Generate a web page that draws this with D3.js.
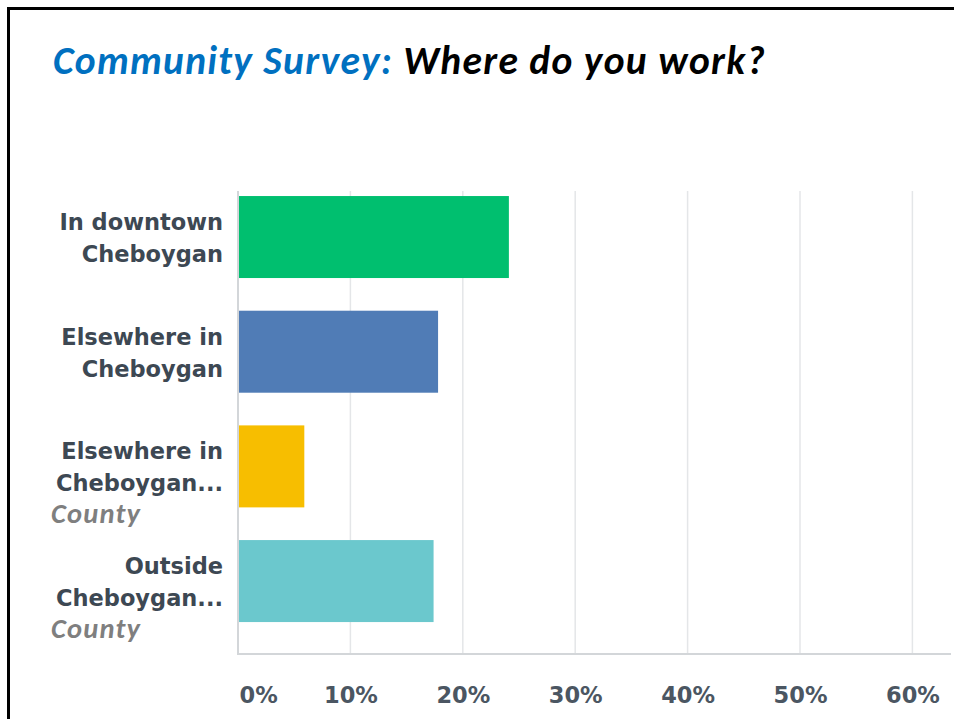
<!DOCTYPE html>
<html>
<head>
<meta charset="utf-8">
<script src="https://cdn.jsdelivr.net/npm/d3@7/dist/d3.min.js"></script>
<style>
  html, body { margin: 0; padding: 0; background: #fff; }
  svg { display: block; }
</style>
</head>
<body>
<svg id="chart" width="954" height="719"></svg>
<script>
// Survey answers, share of respondents
const categories = ["In downtown Cheboygan", "Elsewhere in Cheboygan", "Elsewhere in Cheboygan County", "Outside Cheboygan County"];
const labelLines = [
  ["In downtown", "Cheboygan"],
  ["Elsewhere in", "Cheboygan"],
  ["Elsewhere in", "Cheboygan..."],
  ["Outside", "Cheboygan..."]
];
const labelNotes = ["", "", "County", "County"];
const values = [0.241, 0.178, 0.059, 0.174];
const colors = ["#00bf6f", "#507cb6", "#f7be00", "#6bc8cd"];
const tickValues = [0, 0.1, 0.2, 0.3, 0.4, 0.5, 0.6];
const tickLabels = ["0%", "10%", "20%", "30%", "40%", "50%", "60%"];
const titleLead = "Community Survey: ";
const titleRest = "Where do you work?";

const svg = d3.select("#chart");
const W = 954, H = 719;

svg.append("rect").attr("width", W).attr("height", H).attr("fill", "#fff");

// slide frame (left and top edges)
svg.append("path")
  .attr("d", `M8.5,${H} V8.5 H${W}`)
  .attr("fill", "none").attr("stroke", "#000").attr("stroke-width", 3);

// title
const title = svg.append("text")
  .attr("x", 53).attr("y", 74)
  .attr("font-family", "Carlito, Calibri, Lato, sans-serif")
  .attr("font-weight", 700).attr("font-style", "italic")
  .attr("font-size", 39.5)
  .attr("letter-spacing", 1.3);
title.append("tspan").attr("fill", "#0070c0").text(titleLead);
title.append("tspan").attr("fill", "#000").text(titleRest);

// plot area
const plotTop = 191, plotBottom = 654, plotLeft = 238, plotRight = 951;

const x = d3.scaleLinear().domain([0, 0.6]).range([plotLeft, 912.4]);
const y = d3.scaleBand().domain(categories)
  .range([179.7, 638.4]).paddingInner(0.285).paddingOuter(0.1425);

// vertical gridlines
svg.append("g").selectAll("line").data(tickValues.slice(1)).join("line")
  .attr("x1", d => x(d)).attr("x2", d => x(d))
  .attr("y1", plotTop).attr("y2", plotBottom)
  .attr("stroke", "#e4e6e8").attr("stroke-width", 1.5);

// bars
svg.append("g").selectAll("rect").data(categories).join("rect")
  .attr("x", x(0))
  .attr("y", d => y(d))
  .attr("width", (d, i) => x(values[i]) - x(0))
  .attr("height", y.bandwidth())
  .attr("fill", (d, i) => colors[i]);

// axis lines
svg.append("line")
  .attr("x1", plotLeft).attr("x2", plotLeft)
  .attr("y1", plotTop).attr("y2", plotBottom + 1)
  .attr("stroke", "#d3d6d9").attr("stroke-width", 2);
svg.append("line")
  .attr("x1", plotLeft - 1).attr("x2", plotRight)
  .attr("y1", plotBottom).attr("y2", plotBottom)
  .attr("stroke", "#d3d6d9").attr("stroke-width", 2);

// x tick labels
const xAxis = d3.axisBottom(x)
  .tickValues(tickValues)
  .tickFormat((d, i) => tickLabels[i])
  .tickSize(0).tickPadding(0);
const gx = svg.append("g").attr("transform", `translate(0, ${plotBottom})`).call(xAxis);
gx.select(".domain").remove();
gx.selectAll("text")
  .attr("y", 49).attr("dy", null)
  .attr("font-family", "DejaVu Sans, sans-serif")
  .attr("font-weight", 700)
  .attr("font-size", 22.5)
  .attr("fill", "#4b5662");
gx.selectAll(".tick").filter((d, i) => i === 0).select("text")
  .attr("text-anchor", "start").attr("x", 1);

// category labels
const labels = svg.append("g").selectAll("g").data(categories).join("g")
  .attr("transform", d => `translate(0, ${y(d) + y.bandwidth() / 2})`);
labels.each(function (d, i) {
  const g = d3.select(this);
  const t = g.append("text")
    .attr("text-anchor", "end")
    .attr("font-family", "DejaVu Sans, sans-serif")
    .attr("font-weight", 700)
    .attr("font-size", 22.5)
    .attr("fill", "#3d4853");
  labelLines[i].forEach((line, j) => {
    t.append("tspan").attr("x", 223).attr("y", -7 + j * 32).text(line);
  });
  if (labelNotes[i]) {
    g.append("text")
      .attr("x", 51).attr("y", 57)
      .attr("font-family", "Carlito, Calibri, Lato, sans-serif")
      .attr("font-weight", 700).attr("font-style", "italic")
      .attr("font-size", 28.5)
      .attr("letter-spacing", 1.2)
      .attr("fill", "#7f7f7f")
      .text(labelNotes[i]);
  }
});
</script>
</body>
</html>
